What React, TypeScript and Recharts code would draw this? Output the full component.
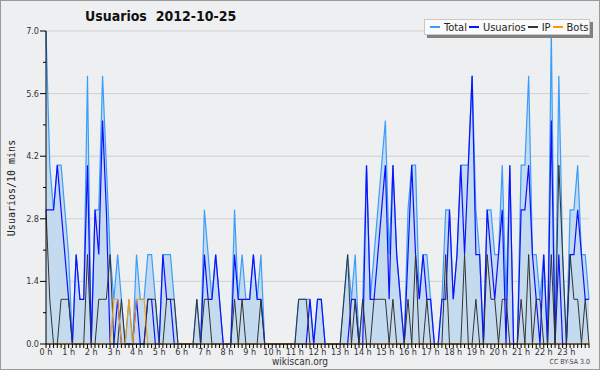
import React from 'react';
import { ComposedChart, Area, Line, XAxis, YAxis, CartesianGrid } from 'recharts';

// one value every 10 minutes, 0:00 .. 24:00
const total = [
  7, 4, 3, 4, 4, 3, 2, 0, 2, 1, 1, 6, 0, 3, 3, 6, 4, 2, 1, 2, 1, 0, 1, 0,
  2, 1, 1, 2, 2, 1, 0, 2, 2, 2, 1, 0, 0, 0, 0, 0, 1, 0, 3, 2, 1, 2, 1, 0,
  0, 0, 3, 1, 2, 1, 1, 2, 1, 2, 0, 0, 0, 0, 0, 0, 0, 0, 0, 1, 1, 1, 1, 0,
  1, 1, 0, 0, 0, 0, 0, 1, 2, 1, 2, 0, 1, 4, 1, 2, 3, 4, 5, 2, 4, 2, 1, 0,
  3, 4, 4, 1, 2, 2, 1, 0, 0, 1, 3, 3, 1, 2, 4, 4, 4, 6, 3, 2, 0, 3, 3, 2,
  2, 4, 1, 4, 0, 0, 4, 4, 6, 2, 2, 1, 2, 0, 7, 0, 6, 2, 0, 3, 3, 4, 2, 2,
  1
];
const usuarios = [
  3, 3, 3, 4, 3, 2, 1, 0, 2, 1, 1, 4, 0, 3, 2, 5, 3, 0, 0, 1, 0, 0, 0, 0,
  1, 0, 0, 1, 1, 0, 0, 2, 1, 1, 0, 0, 0, 0, 0, 0, 0, 0, 2, 1, 1, 2, 1, 0,
  0, 0, 2, 1, 1, 1, 1, 2, 1, 1, 0, 0, 0, 0, 0, 0, 0, 0, 0, 0, 0, 0, 1, 0,
  1, 1, 0, 0, 0, 0, 0, 0, 0, 1, 1, 0, 0, 4, 1, 1, 2, 3, 4, 1, 4, 2, 1, 0,
  2, 4, 2, 1, 2, 1, 1, 0, 0, 1, 1, 3, 1, 2, 4, 2, 4, 6, 2, 2, 0, 3, 2, 1,
  2, 3, 0, 4, 0, 0, 3, 3, 4, 2, 1, 0, 2, 0, 5, 0, 2, 0, 0, 2, 2, 3, 2, 1,
  1
];
const ip = [
  3, 1, 0, 0, 1, 1, 1, 0, 0, 0, 0, 2, 0, 0, 1, 1, 1, 2, 0, 0, 1, 0, 0, 0,
  0, 0, 0, 1, 1, 1, 0, 0, 1, 1, 1, 0, 0, 0, 0, 0, 1, 0, 1, 1, 0, 0, 0, 0,
  0, 0, 1, 0, 1, 0, 0, 0, 0, 1, 0, 0, 0, 0, 0, 0, 0, 0, 0, 1, 1, 1, 0, 0,
  0, 0, 0, 0, 0, 0, 0, 1, 2, 0, 1, 0, 1, 0, 0, 1, 1, 1, 1, 0, 1, 0, 0, 0,
  1, 0, 2, 0, 0, 1, 0, 0, 0, 0, 2, 0, 0, 0, 0, 2, 0, 0, 1, 0, 0, 2, 1, 1,
  0, 1, 1, 0, 0, 0, 1, 0, 2, 0, 1, 1, 0, 0, 2, 0, 4, 2, 0, 2, 1, 1, 0, 1,
  0
];
const bots = [
  0, 0, 0, 0, 0, 0, 0, 0, 0, 0, 0, 0, 0, 0, 0, 0, 0, 0, 1, 1, 0, 0, 1, 0,
  1, 1, 1, 0, 0, 0, 0, 0, 0, 0, 0, 0, 0, 0, 0, 0, 0, 0, 0, 0, 0, 0, 0, 0,
  0, 0, 0, 0, 0, 0, 0, 0, 0, 0, 0, 0, 0, 0, 0, 0, 0, 0, 0, 0, 0, 0, 0, 0,
  0, 0, 0, 0, 0, 0, 0, 0, 0, 0, 0, 0, 0, 0, 0, 0, 0, 0, 0, 0, 0, 0, 0, 0,
  0, 0, 0, 0, 0, 0, 0, 0, 0, 0, 0, 0, 0, 0, 0, 0, 0, 0, 0, 0, 0, 0, 0, 0,
  0, 0, 0, 0, 0, 0, 0, 0, 0, 0, 0, 0, 0, 0, 0, 0, 0, 0, 0, 0, 0, 0, 0, 0,
  0
];

const hourLabels = [
  '0 h', '1 h', '2 h', '3 h', '4 h', '5 h', '6 h', '7 h', '8 h', '9 h', '10 h', '11 h',
  '12 h', '13 h', '14 h', '15 h', '16 h', '17 h', '18 h', '19 h', '20 h', '21 h', '22 h', '23 h'
];
const yTicks = [0, 0.7, 1.4, 2.1, 2.8, 3.5, 4.2, 4.9, 5.6, 6.3, 7.0];
const yGrid = [1.4, 2.8, 4.2, 5.6, 7.0];

const series = [
  { key: 'total', name: 'Total', color: '#3a9dfa' },
  { key: 'usuarios', name: 'Usuarios', color: '#1010ff' },
  { key: 'ip', name: 'IP', color: '#333333' },
  { key: 'bots', name: 'Bots', color: '#ff9a00' },
];

const data = total.map((t, i) => ({
  i,
  total: t,
  usuarios: usuarios[i],
  ip: ip[i],
  bots: bots[i],
}));

const xTicks = data.map((d) => d.i);
const font = "'DejaVu Sans Condensed', 'Liberation Sans Narrow', 'DejaVu Sans', sans-serif";

const XTick = (props: any) => {
  const { x, y, payload } = props;
  const v = payload.value;
  const hour = v % 6 === 0 && v < 144;
  return (
    <g>
      <line x1={x} x2={x} y1={y} y2={y + 4} stroke="#000" />
      {hour && (
        <text x={x} y={y + 11} textAnchor="middle" fontSize={9} fill="#333" fontFamily={font}>
          {hourLabels[v / 6]}
        </text>
      )}
    </g>
  );
};

const YTick = (props: any) => {
  const { x, y, payload } = props;
  const v = payload.value;
  const major = Math.abs(v / 1.4 - Math.round(v / 1.4)) < 1e-6;
  return (
    <g>
      <line x1={x - (major ? 6 : 3)} x2={x} y1={y} y2={y} stroke="#000" />
      {major && (
        <text x={x - 7} y={y + 3} textAnchor="end" fontSize={9} fill="#333" fontFamily={font}>
          {v.toFixed(1)}
        </text>
      )}
    </g>
  );
};

const LegendBox = () => (
  <div
    style={{
      position: 'absolute',
      left: 424,
      top: 19,
      width: 166,
      height: 16,
      boxSizing: 'border-box',
      display: 'flex',
      alignItems: 'center',
      background: '#fafafa',
      border: '1px solid #c8c8c8',
      boxShadow: '3px 3px 0 #808080',
      paddingLeft: 3,
      fontFamily: font,
      fontSize: 11,
      color: '#222',
      whiteSpace: 'nowrap',
    }}
  >
    {series.map((s) => (
      <span key={s.key} style={{ display: 'flex', alignItems: 'center' }}>
        <span style={{ display: 'inline-block', width: 10, borderTop: `2px solid ${s.color}`, margin: '0 4px 0 2px' }} />
        <span>{s.name}</span>
      </span>
    ))}
  </div>
);

export default function App() {
  return (
    <div style={{ position: 'absolute', left: 0, top: 0, width: 600, height: 370, background: '#eeeff0' }}>
      <ComposedChart width={600} height={370} data={data} margin={{ top: 31, right: 11, bottom: 6, left: 0 }}>
        <CartesianGrid horizontal vertical={false} horizontalValues={yGrid} stroke="#cfd0d2" />
        <XAxis
          dataKey="i"
          type="number"
          domain={[0, 144]}
          ticks={xTicks}
          interval={0}
          tickSize={0}
          tickMargin={0}
          tickLine={false}
          tick={<XTick />}
          height={20}
          axisLine={{ stroke: '#000' }}
        />
        <YAxis
          type="number"
          domain={[0, 7]}
          ticks={yTicks}
          interval={0}
          tickSize={0}
          tickMargin={0}
          tickLine={false}
          tick={<YTick />}
          width={46}
          axisLine={{ stroke: '#000' }}
        />
        <Area
          type="linear"
          dataKey="total"
          name="Total"
          stroke="#3a9dfa"
          strokeWidth={1.2}
          fill="#c4dbef"
          fillOpacity={1}
          dot={false}
          activeDot={false}
          isAnimationActive={false}
        />
        <Line type="linear" dataKey="usuarios" name="Usuarios" stroke="#1010ff" strokeWidth={1.2} dot={false} activeDot={false} isAnimationActive={false} />
        <Line type="linear" dataKey="ip" name="IP" stroke="#333333" strokeWidth={1} dot={false} activeDot={false} isAnimationActive={false} />
        <Line type="linear" dataKey="bots" name="Bots" stroke="#ff9a00" strokeWidth={1} dot={false} activeDot={false} isAnimationActive={false} />
      </ComposedChart>
      <LegendBox />
      <div style={{ position: 'absolute', left: 85, top: 8, fontFamily: font, fontWeight: 'bold', fontSize: 14, color: '#111', whiteSpace: 'pre' }}>
        {'Usuarios  2012-10-25'}
      </div>
      <div
        style={{
          position: 'absolute',
          left: 11,
          top: 188,
          transform: 'translate(-50%, -50%) rotate(-90deg)',
          fontFamily: "'DejaVu Sans Mono', monospace",
          fontSize: 10,
          color: '#222',
          whiteSpace: 'nowrap',
        }}
      >
        Usuarios/10 mins
      </div>
      <div style={{ position: 'absolute', left: 0, width: 600, top: 357, lineHeight: '10px', textAlign: 'center', fontFamily: font, fontSize: 10, color: '#333' }}>
        wikiscan.org
      </div>
      <div style={{ position: 'absolute', right: 10, top: 358, lineHeight: '8px', fontFamily: font, fontSize: 7, color: '#444' }}>
        CC BY-SA 3.0
      </div>
      <div style={{ position: 'absolute', left: 0, top: 0, width: 600, height: 370, boxSizing: 'border-box', border: '1px solid #9a9a9a', pointerEvents: 'none' }} />
    </div>
  );
}
